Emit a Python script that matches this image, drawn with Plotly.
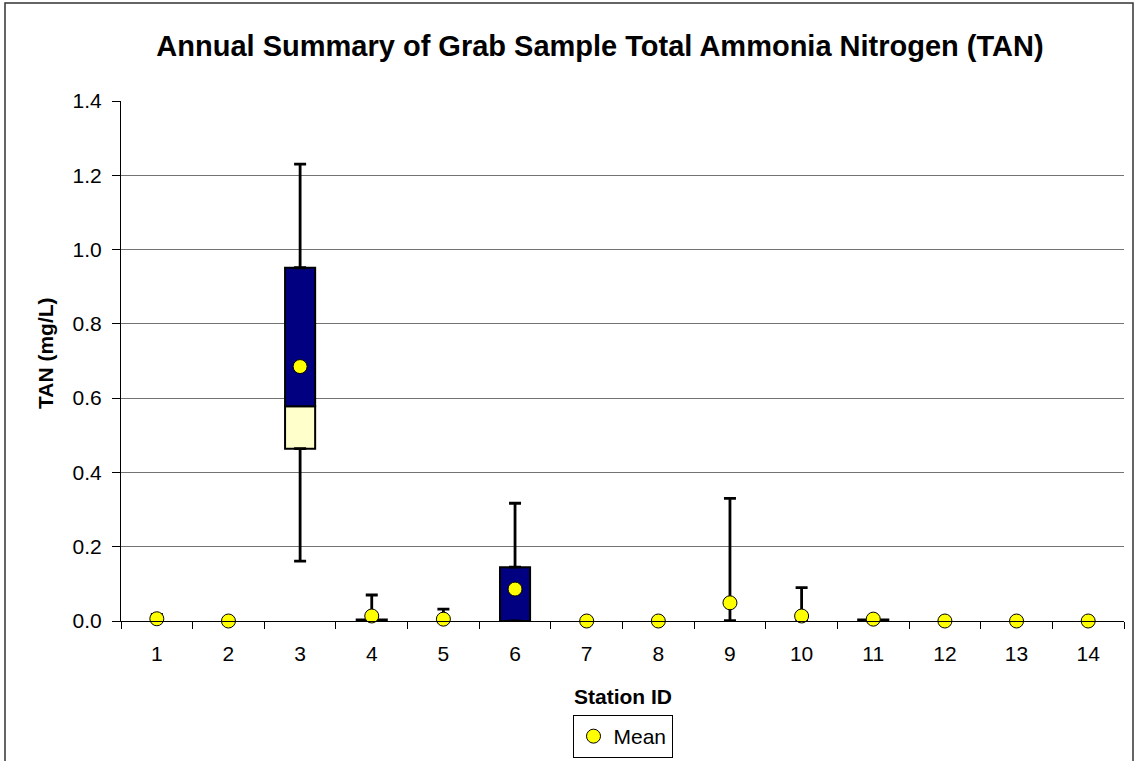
import plotly.graph_objects as go

# Station summary statistics for grab-sample TAN (mg/L)
stations = [str(i) for i in range(1, 15)]
minimum = [0, 0, 0.161, 0, 0, 0, 0, 0, 0, 0, 0, 0, 0, 0]
q1 = [0, 0, 0.464, 0, 0, 0, 0, 0, 0, 0, 0, 0, 0, 0]
median = [0, 0, 0.578, 0, 0, 0, 0, 0, 0, 0, 0, 0, 0, 0]
q3 = [0, 0, 0.951, 0.004, 0, 0.145, 0, 0, 0, 0, 0.004, 0, 0, 0]
maximum = [0.018, 0, 1.230, 0.070, 0.032, 0.317, 0, 0, 0.330, 0.090, 0.004, 0, 0, 0]
mean = [0.006, 0, 0.685, 0.0135, 0.005, 0.086, 0, 0, 0.049, 0.0135, 0.005, 0, 0, 0]

FONT = "Arial, Liberation Sans, sans-serif"
W, H = 1135, 761
L, R, T, B = 121, 11, 101, 140
PW, PH = W - L - R, H - T - B


def px_x(p):
    return (p - L) / PW


def px_y(p):
    return (H - B - p) / PH


def span(top, bottom):
    # box segment height, left empty where the segment has no size
    return [(t - b) if t > b else None for t, b in zip(top, bottom)]


fig = go.Figure()

# lower half of the box: Q1 -> median
fig.add_trace(go.Bar(
    x=stations, y=span(median, q1), base=q1,
    width=0.42, marker=dict(color="#FFFFCC", line=dict(color="black", width=2)),
    showlegend=False, hoverinfo="skip"))
# upper half of the box: median -> Q3
fig.add_trace(go.Bar(
    x=stations, y=span(q3, median), base=median,
    width=0.42, marker=dict(color="#000080", line=dict(color="black", width=2)),
    showlegend=False, hoverinfo="skip"))

# whiskers: Q3 -> max and Q1 -> min
fig.add_trace(go.Scatter(
    x=stations, y=q3, mode="markers",
    marker=dict(size=1, color="rgba(0,0,0,0)"),
    error_y=dict(type="data", symmetric=False,
                 array=[mx - c for mx, c in zip(maximum, q3)],
                 arrayminus=[0] * len(stations),
                 color="black", thickness=2.8, width=6),
    showlegend=False, hoverinfo="skip"))
fig.add_trace(go.Scatter(
    x=stations, y=q1, mode="markers",
    marker=dict(size=1, color="rgba(0,0,0,0)"),
    error_y=dict(type="data", symmetric=False,
                 array=[0] * len(stations),
                 arrayminus=[a - mn for a, mn in zip(q1, minimum)],
                 color="black", thickness=2.8, width=6),
    showlegend=False, hoverinfo="skip"))

# mean markers
fig.add_trace(go.Scatter(
    x=stations, y=mean, mode="markers", name="Mean",
    marker=dict(size=14, color="#FFFF00", line=dict(color="black", width=1)),
    cliponaxis=False))

fig.update_layout(
    width=W, height=H,
    margin=dict(l=L, r=R, t=T, b=B, autoexpand=False),
    paper_bgcolor="white", plot_bgcolor="white",
    barmode="overlay",
    font=dict(family=FONT, size=21, color="black"),
    title=dict(text="<b>Annual Summary of Grab Sample Total Ammonia Nitrogen (TAN)</b>",
               font=dict(family=FONT, size=29, color="black"),
               xref="container", x=600 / W, xanchor="center",
               yref="container", y=1 - 46 / H, yanchor="middle"),
    legend=dict(orientation="h", x=0.5, xanchor="center",
                y=px_y(715), yanchor="top",
                bordercolor="black", borderwidth=1,
                font=dict(family=FONT, size=21, color="black")),
    showlegend=True,
)

fig.update_xaxes(
    type="category", range=[-0.5, 13.5],
    showline=True, linecolor="black", linewidth=1,
    ticks="outside", tickson="boundaries", ticklen=7, tickcolor="black",
    ticklabelstandoff=14,
    showgrid=False, tickfont=dict(family=FONT, size=21, color="black"))
fig.update_yaxes(
    range=[0, 1.4], dtick=0.2, tickformat=".1f",
    showline=True, linecolor="black", linewidth=1,
    ticks="outside", ticklen=8, tickcolor="black", ticklabelstandoff=6,
    showgrid=True, gridcolor="#737373", gridwidth=1, zeroline=False,
    tickfont=dict(family=FONT, size=21, color="black"))

fig.add_annotation(text="<b>Station ID</b>", xref="paper", yref="paper",
                   x=0.5, y=px_y(696), xanchor="center", yanchor="middle",
                   showarrow=False, font=dict(family=FONT, size=21, color="black"))
fig.add_annotation(text="<b>TAN (mg/L)</b>", xref="paper", yref="paper",
                   x=px_x(45), y=px_y(353), xanchor="center", yanchor="middle",
                   textangle=-90, showarrow=False,
                   font=dict(family=FONT, size=21, color="black"))

# outer chart border
fig.add_shape(type="rect", xref="paper", yref="paper",
              x0=px_x(5), x1=px_x(1133), y0=px_y(790), y1=px_y(3),
              line=dict(color="#333333", width=1.5), layer="above")

fig.write_html("out.html")
